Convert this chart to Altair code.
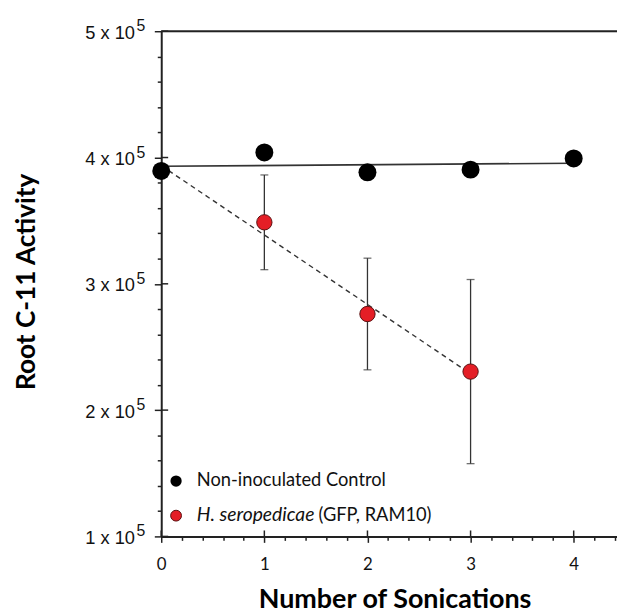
import altair as alt
import pandas as pd

# ---- data ----
sonications = [0, 1, 2, 3, 4]
control = [389400, 404000, 388300, 390400, 399300]

inoc_x = [0, 1, 2, 3]
inoc = [389400, 348700, 276100, 230500]
inoc_err = [0, 37500, 44200, 72900]

y_major = [100000, 200000, 300000, 400000, 500000]
y_ticks = [100000, 120000, 140000, 160000, 180000, 200000, 220000, 240000, 260000,
           280000, 300000, 320000, 340000, 360000, 380000, 400000, 420000, 440000,
           460000, 480000, 500000]
x_major = [0, 1, 2, 3, 4]
x_ticks = [0, 0.2, 0.4, 0.6, 0.8, 1, 1.2, 1.4, 1.6, 1.8, 2, 2.2, 2.4, 2.6, 2.8,
           3, 3.2, 3.4, 3.6, 3.8, 4, 4.2, 4.4]

legend_control = "Non-inoculated Control"
legend_species = "H. seropedicae"
legend_strain = "(GFP, RAM10)"

W, H = 461, 511
INK = "#222222"
RED = "#e41e26"
CAL = "Lato"

ctrl_df = pd.DataFrame({"x": sonications, "y": control})
inoc_df = pd.DataFrame({"x": inoc_x, "y": inoc, "err": inoc_err})
inoc_df["lo"] = inoc_df["y"] - inoc_df["err"]
inoc_df["hi"] = inoc_df["y"] + inoc_df["err"]
bars_df = inoc_df[inoc_df["err"] > 0]

xscale = alt.Scale(domain=[0, 4.42], nice=False, zero=False)
yscale = alt.Scale(domain=[100000, 500000], nice=False, zero=False)

x_axis = alt.Axis(
    values=x_ticks,
    labelExpr="abs(datum.value - round(datum.value)) < 0.01 ? format(datum.value, 'd') : ''",
    labelFlush=False, labelOverlap=False,
    labelFont=CAL, labelFontSize=17, labelColor="#111", labelPadding=14,
    tickSize={"condition": {"test": "abs(datum.value - round(datum.value)) < 0.01", "value": 6}, "value": 4},
    tickColor=INK, tickWidth=1.5, domainColor=INK, domainWidth=2, grid=False,
    title="Number of Sonications", titleFont=CAL, titleFontSize=27.2,
    titleFontWeight="bold", titleColor="#000", titleX=236, titleY=72,
    titleAlign="center", titleBaseline="alphabetic",
)
y_axis = alt.Axis(
    values=y_ticks,
    labelExpr="datum.value % 100000 === 0 ? (datum.value / 100000) + ' x 10' : ''",
    labelFlush=False, labelOverlap=False,
    labelFont="Liberation Sans", labelFontSize=18.5, labelColor="#111", labelPadding=20,
    labelBaseline="middle", labelOffset=1,
    tickSize={"condition": {"test": "datum.value % 100000 === 0", "value": 7}, "value": 4},
    tickColor=INK, tickWidth=1.5, domainColor=INK, domainWidth=2, grid=False,
    title="Root C-11 Activity", titleFont=CAL, titleFontSize=26.5,
    titleFontWeight="bold", titleColor="#000", titleX=-136, titleY=253,
    titleAngle=270, titleAlign="center", titleBaseline="middle",
)

X = alt.X("x:Q", scale=xscale, axis=x_axis)
Y = alt.Y("y:Q", scale=yscale, axis=y_axis)
Ylo = alt.Y("lo:Q", scale=yscale, axis=y_axis)
Yhi = alt.Y("hi:Q", scale=yscale, axis=y_axis)

top_rule = alt.Chart(pd.DataFrame({"y": [y_major[-1]]})).mark_rule(
    color=INK, strokeWidth=2).encode(y=Y)

y_inner = alt.Chart(pd.DataFrame({"y": y_major})).mark_rule(
    color=INK, strokeWidth=1.5).encode(y=Y, x=alt.value(0), x2=alt.value(7))
x_inner = alt.Chart(pd.DataFrame({"x": x_major})).mark_rule(
    color=INK, strokeWidth=1.5).encode(x=X, y=alt.value(H), y2=alt.value(H - 6))

sup = alt.Chart(pd.DataFrame({"y": y_major})).mark_text(
    text="5", font="Liberation Sans", fontSize=16, align="left",
    baseline="middle", dy=-5, color="#111").encode(y=Y, x=alt.value(-25))

err_rules = alt.Chart(bars_df).mark_rule(color="#333", strokeWidth=1.3).encode(
    x=X, y=Ylo, y2="hi:Q")
cap_lo = alt.Chart(bars_df).mark_tick(color="#333", thickness=1.3, size=8,
                                      orient="horizontal").encode(x=X, y=Ylo)
cap_hi = alt.Chart(bars_df).mark_tick(color="#333", thickness=1.3, size=8,
                                      orient="horizontal").encode(x=X, y=Yhi)

inoc_fit = alt.Chart(inoc_df).transform_regression("x", "y").mark_line(
    color="#333", strokeWidth=1.4, strokeDash=[5, 4]).encode(x=X, y=Y)
inoc_pts = alt.Chart(inoc_df).mark_point(
    shape="circle", filled=True, fill=RED, stroke="#5a1010", strokeWidth=1,
    size=240, opacity=1).encode(x=X, y=Y)

ctrl_fit = alt.Chart(ctrl_df).transform_regression("x", "y").mark_line(
    color="#333", strokeWidth=1.6).encode(x=X, y=Y)
ctrl_pts = alt.Chart(ctrl_df).mark_point(
    shape="circle", filled=True, color="#000", size=330, opacity=1).encode(x=X, y=Y)

leg_black = alt.Chart(pd.DataFrame({"label": [legend_control]})).mark_point(
    shape="circle", filled=True, color="#000", size=130, opacity=1).encode(
    x=alt.value(15), y=alt.value(455))
leg_red = alt.Chart(pd.DataFrame({"label": [legend_species]})).mark_point(
    shape="circle", filled=True, fill=RED, stroke="#5a1010", strokeWidth=1,
    size=120, opacity=1).encode(x=alt.value(15), y=alt.value(490))
leg_t1 = alt.Chart(pd.DataFrame({"label": [legend_control]})).mark_text(
    font=CAL, fontSize=18.5, align="left", baseline="alphabetic",
    color="#111").encode(text="label:N", x=alt.value(36), y=alt.value(460.5))
leg_t2 = alt.Chart(pd.DataFrame({"label": [legend_species]})).mark_text(
    font=CAL, fontSize=19.5, fontStyle="italic", align="left",
    baseline="alphabetic", color="#111").encode(
    text="label:N", x=alt.value(36), y=alt.value(495.5))
leg_t3 = alt.Chart(pd.DataFrame({"label": [legend_strain]})).mark_text(
    font=CAL, fontSize=18.5, align="left", baseline="alphabetic",
    color="#111").encode(text="label:N", x=alt.value(159), y=alt.value(495.5))

chart = alt.layer(
    top_rule, y_inner, x_inner, sup,
    err_rules, cap_lo, cap_hi, inoc_fit, inoc_pts,
    ctrl_fit, ctrl_pts,
    leg_black, leg_red, leg_t1, leg_t2, leg_t3,
).properties(
    width=W, height=H,
    autosize=alt.AutoSizeParams(type="none"),
    padding={"left": 155, "top": 20, "right": 0, "bottom": 76},
).configure_view(stroke=None).configure(background="white")

chart.save("out.html", embed_options={"renderer": "svg", "actions": False})
